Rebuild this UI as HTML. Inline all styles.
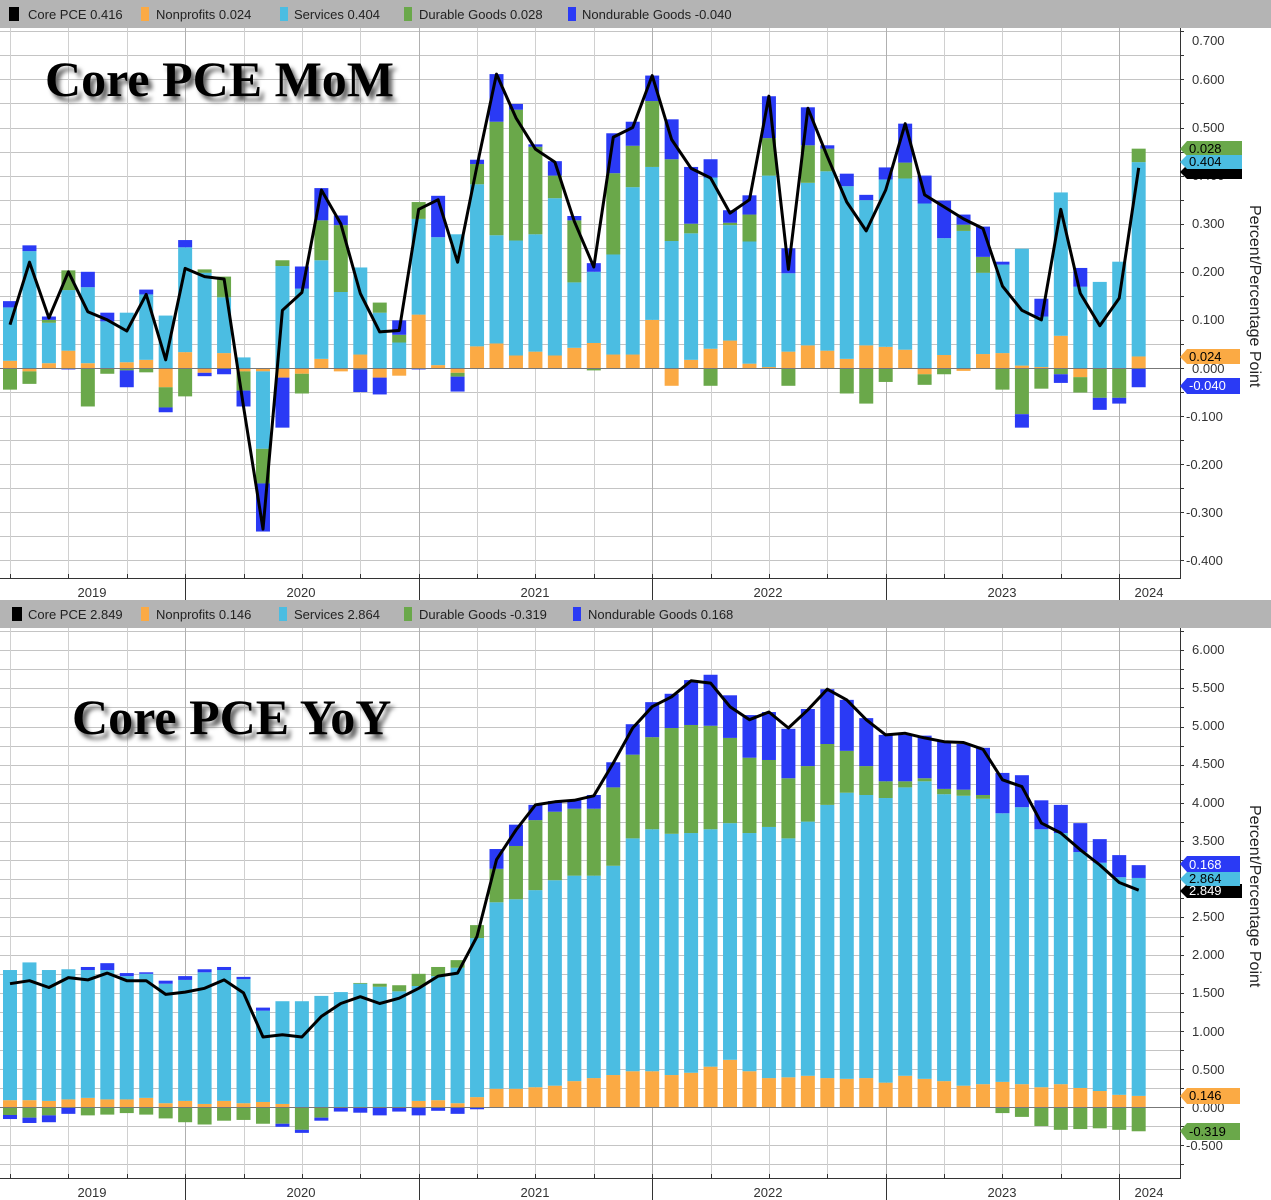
<!DOCTYPE html>
<html><head><meta charset="utf-8">
<style>
body{margin:0;padding:0;background:#fff;}
#wrap{position:relative;width:1271px;height:1200px;overflow:hidden;font-family:"Liberation Sans",sans-serif;}
.ttl{position:absolute;font-family:"Liberation Serif",serif;font-weight:bold;font-size:50px;color:#000;text-shadow:4px 5px 4px #666;white-space:nowrap;}
</style></head><body>
<div id="wrap">
<svg id="s" width="1271" height="1200" xmlns="http://www.w3.org/2000/svg" font-family="Liberation Sans, sans-serif">
<rect x="0" y="0" width="1271" height="1200" fill="#fff"/>
<g id="grid"></g>
<g id="bars"></g>
<g id="lines"></g>
<rect x="0" y="0" width="1271" height="28" fill="#b4b4b4"/>
<rect x="0" y="600" width="1271" height="28" fill="#b4b4b4"/>
<g font-size="13" fill="#222">
<rect x="9" y="7" width="10" height="14" fill="#000"/><text x="28" y="19">Core PCE  0.416</text>
<rect x="141" y="7" width="8" height="14" fill="#fbaa44"/><text x="156" y="19">Nonprofits  0.024</text>
<rect x="280" y="7" width="8" height="14" fill="#4bbde2"/><text x="294" y="19">Services  0.404</text>
<rect x="404" y="7" width="8" height="14" fill="#6aa84a"/><text x="419" y="19">Durable Goods  0.028</text>
<rect x="568" y="7" width="8" height="14" fill="#2a3af5"/><text x="582" y="19">Nondurable Goods  -0.040</text>
<rect x="12" y="607" width="10" height="14" fill="#000"/><text x="28" y="619">Core PCE  2.849</text>
<rect x="141" y="607" width="8" height="14" fill="#fbaa44"/><text x="156" y="619">Nonprofits  0.146</text>
<rect x="279" y="607" width="8" height="14" fill="#4bbde2"/><text x="294" y="619">Services  2.864</text>
<rect x="404" y="607" width="8" height="14" fill="#6aa84a"/><text x="419" y="619">Durable Goods  -0.319</text>
<rect x="573" y="607" width="8" height="14" fill="#2a3af5"/><text x="588" y="619">Nondurable Goods  0.168</text>
</g>
<g stroke="#333" stroke-width="1" fill="none">
<line x1="1180.5" y1="28" x2="1180.5" y2="578"/>
<line x1="0" y1="578.5" x2="1181" y2="578.5"/>
<line x1="1180.5" y1="628" x2="1180.5" y2="1178"/>
<line x1="0" y1="1178.5" x2="1181" y2="1178.5"/>
<line x1="185.5" y1="578" x2="185.5" y2="600"/><line x1="419.5" y1="578" x2="419.5" y2="600"/><line x1="652.5" y1="578" x2="652.5" y2="600"/><line x1="886.5" y1="578" x2="886.5" y2="600"/><line x1="1119.5" y1="578" x2="1119.5" y2="600"/>
<line x1="185.5" y1="1178" x2="185.5" y2="1200"/><line x1="419.5" y1="1178" x2="419.5" y2="1200"/><line x1="652.5" y1="1178" x2="652.5" y2="1200"/><line x1="886.5" y1="1178" x2="886.5" y2="1200"/><line x1="1119.5" y1="1178" x2="1119.5" y2="1200"/>
</g>
<g id="ticks"></g>
<g font-size="13" fill="#333" text-anchor="middle">
<text x="92" y="597">2019</text><text x="301" y="597">2020</text><text x="535" y="597">2021</text><text x="768" y="597">2022</text><text x="1002" y="597">2023</text><text x="1149" y="597">2024</text>
<text x="92" y="1197">2019</text><text x="301" y="1197">2020</text><text x="535" y="1197">2021</text><text x="768" y="1197">2022</text><text x="1002" y="1197">2023</text><text x="1149" y="1197">2024</text>
</g>
<g font-size="13" fill="#333">
<text x="1192" y="45">0.700</text>
<text x="1192" y="84">0.600</text>
<text x="1192" y="132">0.500</text>
<text x="1192" y="180">0.400</text>
<text x="1192" y="228">0.300</text>
<text x="1192" y="276">0.200</text>
<text x="1192" y="324">0.100</text>
<text x="1192" y="373">0.000</text>
<text x="1186" y="421">-0.100</text>
<text x="1186" y="469">-0.200</text>
<text x="1186" y="517">-0.300</text>
<text x="1186" y="565">-0.400</text>
<text x="1192" y="654">6.000</text>
<text x="1192" y="692">5.500</text>
<text x="1192" y="730">5.000</text>
<text x="1192" y="768">4.500</text>
<text x="1192" y="807">4.000</text>
<text x="1192" y="845">3.500</text>
<text x="1192" y="921">2.500</text>
<text x="1192" y="959">2.000</text>
<text x="1192" y="997">1.500</text>
<text x="1192" y="1036">1.000</text>
<text x="1192" y="1074">0.500</text>
<text x="1192" y="1112">0.000</text>
<text x="1186" y="1150">-0.500</text>
</g>
<g font-size="16" fill="#222">
<text transform="translate(1250,205) rotate(90)">Percent/Percentage Point</text>
<text transform="translate(1250,805) rotate(90)">Percent/Percentage Point</text>
</g>
<g font-size="13">
<polygon points="1180,149 1187,141 1242,141 1242,156 1187,156" fill="#6aa84a"/><text x="1189" y="153" fill="#000">0.028</text>
<polygon points="1180,172 1187,165 1242,165 1242,179 1187,179" fill="#000"/>
<polygon points="1180,162 1187,155 1242,155 1242,169 1187,169" fill="#4bbde2"/><text x="1189" y="166" fill="#000">0.404</text>
<polygon points="1180,357 1187,349 1240,349 1240,364 1187,364" fill="#fbaa44"/><text x="1189" y="361" fill="#000">0.024</text>
<polygon points="1180,386 1187,378 1240,378 1240,394 1187,394" fill="#2a3af5"/><text x="1189" y="390" fill="#fff">-0.040</text>
<polygon points="1180,864 1187,856 1240,856 1240,872 1187,872" fill="#2a3af5"/><text x="1189" y="869" fill="#fff">0.168</text>
<polygon points="1180,891 1187,884 1242,884 1242,898 1187,898" fill="#000"/><text x="1189" y="895" fill="#fff">2.849</text>
<polygon points="1180,879 1187,872 1240,872 1240,886 1187,886" fill="#4bbde2"/><text x="1189" y="883" fill="#000">2.864</text>
<polygon points="1180,1096 1187,1088 1240,1088 1240,1104 1187,1104" fill="#fbaa44"/><text x="1189" y="1100" fill="#000">0.146</text>
<polygon points="1180,1131 1187,1123 1240,1123 1240,1140 1187,1140" fill="#6aa84a"/><text x="1189" y="1136" fill="#000">-0.319</text>
</g>
</svg>
<div class="ttl" style="left:45px;top:50px;">Core PCE MoM</div>
<div class="ttl" style="left:72px;top:688px;">Core PCE YoY</div>
</div>
<script>
(function(){
var NS="http://www.w3.org/2000/svg";
function el(p,t,a){var e=document.createElementNS(NS,t);for(var k in a)e.setAttribute(k,a[k]);p.appendChild(e);return e;}
var C=["#fbaa44","#4bbde2","#6aa84a","#2a3af5"];
var dTop=[[.015,.111,-.045,.013,.09],[-.007,.243,-.026,.012,.22],[.01,.084,.006,.007,.104],[.036,.126,.041,-.003,.2],[.01,.158,-.08,.032,.117],[0,.097,-.012,.018,.1],[.012,.103,-.005,-.035,.077],[.017,.136,-.009,.01,.153],[-.04,.109,-.042,-.01,.017],[.033,.218,-.059,.015,.207],[-.01,.198,.007,-.007,.19],[.031,.116,.043,-.013,.185],[-.007,.022,-.04,-.033,-.08],[-.007,-.161,-.072,-.1,-.335],[-.02,.212,.012,-.104,.12],[-.012,.165,-.041,.046,.157],[.019,.205,.083,.067,.37],[-.007,.158,.139,.02,.3],[.028,.181,-.003,-.047,.155],[-.02,.115,.021,-.035,.075],[-.016,.053,.016,.03,.078],[.111,.199,.035,-.003,.33],[.006,.266,0,.086,.35],[-.01,.278,-.008,-.031,.22],[.045,.337,.042,.009,.42],[.051,.225,.236,.099,.611],[.026,.239,.272,.012,.52],[.034,.244,.182,.005,.455],[.026,.327,.047,.03,.428],[.042,.136,.129,.009,.305],[.052,.148,-.005,.018,.21],[.028,.208,.169,.083,.48],[.028,.348,.086,.05,.5],[.1,.318,.137,.053,.608],[-.037,.264,.17,.083,.475],[.017,.263,.02,.118,.415],[.04,.356,-.037,.038,.395],[.057,.24,.005,.026,.322],[.009,.254,.056,.04,.35],[.002,.398,.078,.087,.565],[.034,.163,-.037,.052,.205],[.047,.338,.078,.079,.54],[.036,.373,.047,.007,.44],[.019,.359,-.053,.026,.345],[.047,.302,-.074,.011,.285],[.044,.348,-.029,.025,.37],[.038,.356,.033,.081,.508],[-.013,.342,-.022,.058,.36],[.027,.243,-.013,.078,.335],[-.006,.285,.013,.021,.31],[.029,.169,.033,.063,.29],[.031,.184,-.045,.006,.17],[.005,.243,-.096,-.028,.12],[.002,.105,-.043,.037,.1],[.067,.298,-.013,-.018,.33],[-.019,.169,-.032,.039,.155],[-.002,.179,-.06,-.025,.088],[0,.221,-.062,-.012,.145],[.024,.404,.028,-.04,.416]];
var dBot=[[.09,1.71,-.105,-.053,1.62],[.09,1.81,-.14,-.07,1.66],[.08,1.72,-.11,-.09,1.57],[.1,1.71,-.01,-.08,1.7],[.12,1.68,-.11,.04,1.67],[.1,1.7,-.1,.09,1.76],[.1,1.62,-.08,.04,1.66],[.12,1.63,-.1,.02,1.66],[.05,1.57,-.15,.04,1.48],[.08,1.59,-.2,.05,1.51],[.04,1.73,-.23,.04,1.56],[.08,1.72,-.18,.04,1.67],[.05,1.63,-.17,.03,1.5],[.066,1.2,-.22,.04,.92],[.04,1.35,-.22,-.04,.95],[0,1.39,-.3,-.04,.92],[0,1.46,-.14,-.04,1.19],[0,1.51,0,-.06,1.36],[0,1.62,.01,-.075,1.45],[-.01,1.58,.04,-.1,1.36],[0,1.52,.08,-.06,1.43],[.08,1.51,.16,-.11,1.56],[.09,1.63,.12,-.05,1.72],[.05,1.78,.1,-.09,1.76],[.13,2.09,.17,-.03,2.24],[.24,2.45,.44,.26,3.25],[.24,2.49,.7,.28,3.64],[.26,2.59,.92,.2,3.97],[.28,2.7,.9,.14,4.01],[.34,2.7,.88,.11,4.03],[.38,2.66,.88,.18,4.09],[.42,2.75,1.03,.33,4.52],[.47,3.06,1.1,.4,4.98],[.47,3.18,1.21,.46,5.26],[.42,3.17,1.39,.45,5.39],[.45,3.15,1.42,.59,5.6],[.53,3.12,1.36,.67,5.57],[.62,3.11,1.12,.56,5.26],[.47,3.13,.99,.56,5.09],[.38,3.3,.88,.63,5.19],[.39,3.14,.79,.65,4.98],[.41,3.34,.73,.75,5.22],[.38,3.59,.8,.72,5.49],[.37,3.76,.55,.67,5.35],[.38,3.72,.38,.63,5.09],[.32,3.74,.22,.61,4.89],[.41,3.79,.08,.61,4.91],[.37,3.91,.04,.56,4.85],[.34,3.77,.07,.62,4.8],[.28,3.81,.08,.6,4.79],[.3,3.75,.05,.62,4.7],[.33,3.53,-.08,.53,4.3],[.3,3.64,-.13,.42,4.21],[.26,3.39,-.25,.38,3.73],[.3,3.3,-.3,.37,3.6],[.25,3.1,-.29,.38,3.38],[.21,3.0,-.28,.31,3.18],[.16,2.86,-.3,.29,2.95],[.146,2.864,-.319,.168,2.849]];
var G=document.getElementById("grid"),B=document.getElementById("bars"),L=document.getElementById("lines"),T=document.getElementById("ticks");
function X(i){return 10+19.46*i;}
function panel(d,y0,sc,yt,yb,step,n0,n1){
  for(var n=n0;n<=n1;n++){var v=n*step;var y=Math.round(y0-v*sc)+0.5;if(y<yt||y>yb)continue;
    el(G,"line",{x1:0,x2:1180,y1:y,y2:y,stroke:"#c4c4c4","stroke-width":1});
    el(T,"line",{x1:1180,x2:1184,y1:y,y2:y,stroke:"#333"});}
  for(var i=0;i<d.length;i+=3){var x=Math.round(X(i))+0.5;el(G,"line",{x1:x,x2:x,y1:yt,y2:yb,stroke:(i%12==9)?"#b0b0b0":"#d0d0d0","stroke-width":1});
    el(T,"line",{x1:x,x2:x,y1:yb-4,y2:yb,stroke:"#333"});}
  var pts=[];
  d.forEach(function(r,i){var x=X(i)-7,pos=0,neg=0;
    for(var k=0;k<4;k++){var v=r[k];if(v>0){el(B,"rect",{x:x,y:y0-(pos+v)*sc,width:14,height:v*sc,fill:C[k]});pos+=v;}
      else if(v<0){el(B,"rect",{x:x,y:y0-neg*sc,width:14,height:-v*sc,fill:C[k]});neg+=v;}}
    pts.push(X(i).toFixed(1)+","+(y0-r[4]*sc).toFixed(1));});
  el(L,"line",{x1:0,x2:1180,y1:y0+0.5,y2:y0+0.5,stroke:"#777","stroke-width":1});
  el(L,"polyline",{points:pts.join(" "),fill:"none",stroke:"#000","stroke-width":3,"stroke-linejoin":"round"});
}
panel(dTop,368,481,28,578,0.05,-9,15);
panel(dBot,1107,76.1,628,1178,0.25,-3,26);
})();
</script>
</body></html>
